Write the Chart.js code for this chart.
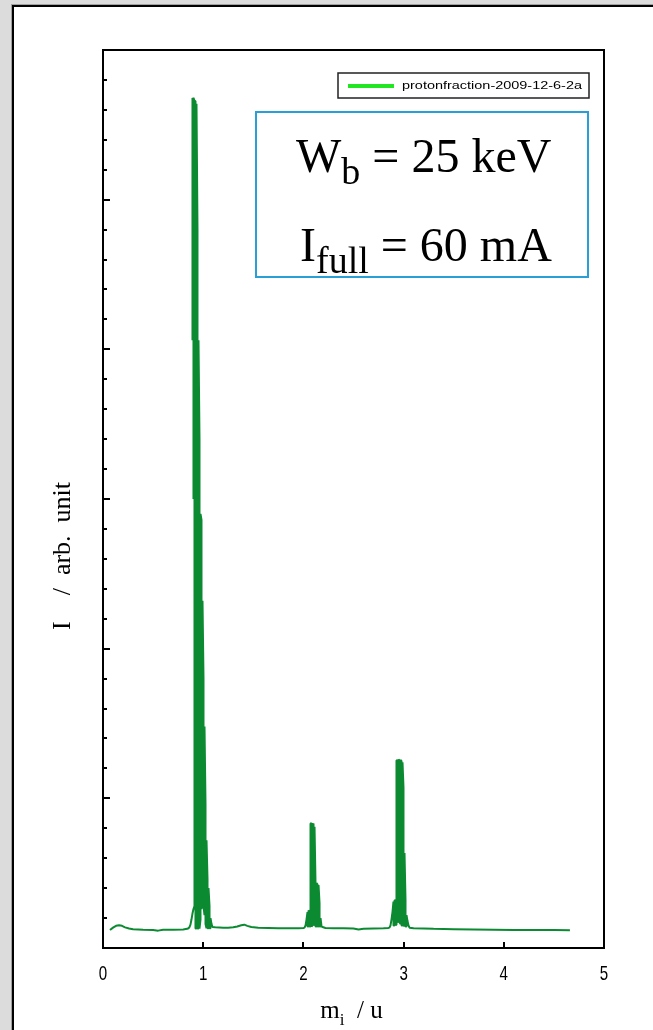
<!DOCTYPE html>
<html>
<head>
<meta charset="utf-8">
<title>protonfraction-2009-12-6-2a</title>
<script src="https://cdn.jsdelivr.net/npm/chart.js@4"></script>
<style>
  html, body { margin: 0; padding: 0; background: #dcdcdc; overflow: hidden; }
  #page {
    position: absolute; left: 12px; top: 5px; width: 700px; height: 1100px;
    background: #fff; border-left: 2px solid #000; border-top: 2px solid #000;
    box-shadow: -1px -1px 0 #a0a0a0;
  }
  #wrap { position: absolute; left: 0; top: 0; width: 653px; height: 1030px; }
</style>
</head>
<body>
<div id="page"></div>
<div id="wrap"><canvas id="chart"></canvas></div>
<script>
// Mass spectrum of the extracted beam (m_i in u, intensity in arb. units)
const seriesLabel = 'protonfraction-2009-12-6-2a';

const xTickValues = [0, 1, 2, 3, 4, 5];
const yTickValues = [1, 2, 3, 4, 5, 6, 7, 8, 9, 10, 11, 12, 13, 14, 15, 16, 17, 18, 19, 20,
  21, 22, 23, 24, 25, 26, 27, 28, 29];
const yMajorTicks = [5, 10, 15, 20, 25];

// [m_i, I] pairs, piece by piece
const baselineLeft = [
  [0.07, 0.60], [0.10, 0.68], [0.13, 0.74], [0.16, 0.76], [0.19, 0.74], [0.22, 0.69],
  [0.26, 0.65], [0.30, 0.63], [0.40, 0.61], [0.50, 0.60], [0.55, 0.58], [0.60, 0.61],
  [0.70, 0.61], [0.80, 0.62], [0.84, 0.64]
];

// H+ peak: the signal flickers between top and bottom, so the trace is a dense band
const peakH1 = [
  [0.853, 0.66], [0.863, 0.70], [0.873, 0.78], [0.883, 0.95], [0.893, 1.15], [0.903, 1.30],
  [0.913, 1.40], [0.913, 28.3],
  [0.903, 28.4], [0.903, 15.0], [0.903, 28.3],
  [0.893, 28.4], [0.893, 20.3], [0.893, 28.3],
  [0.923, 28.3], [0.923, 0.65],
  [0.933, 0.65], [0.933, 28.2],
  [0.943, 24.0], [0.943, 0.65],
  [0.953, 0.65], [0.953, 20.3],
  [0.963, 17.0], [0.963, 0.65],
  [0.973, 0.95], [0.973, 14.5],
  [0.983, 14.3], [0.983, 1.30],
  [0.993, 1.55], [0.993, 11.6],
  [1.003, 9.0], [1.003, 1.40],
  [1.013, 1.10], [1.013, 7.4],
  [1.023, 4.8], [1.023, 0.80],
  [1.033, 0.66], [1.033, 3.6],
  [1.043, 2.3], [1.043, 0.66],
  [1.053, 0.66], [1.053, 2.0],
  [1.063, 1.4], [1.063, 0.66],
  [1.073, 0.66], [1.073, 1.0],
  [1.083, 0.80], [1.093, 0.70]
];

const baselineMid1 = [
  [1.12, 0.69], [1.20, 0.68], [1.25, 0.68], [1.30, 0.69], [1.34, 0.72],
  [1.38, 0.76], [1.41, 0.78], [1.44, 0.74], [1.48, 0.70], [1.55, 0.68], [1.65, 0.67],
  [1.75, 0.66], [1.85, 0.66], [1.95, 0.66]
];

// H2+ peak
const peakH2 = [
  [2.001, 0.67], [2.011, 0.68], [2.021, 0.75], [2.031, 0.95],
  [2.041, 1.20], [2.041, 0.72],
  [2.051, 0.72], [2.051, 1.25],
  [2.061, 1.22], [2.061, 0.72],
  [2.071, 0.72], [2.071, 4.15],
  [2.081, 4.18], [2.081, 0.72],
  [2.091, 0.75], [2.091, 4.10],
  [2.101, 4.16], [2.101, 0.78],
  [2.111, 0.76], [2.111, 4.05],
  [2.121, 2.15], [2.121, 0.72],
  [2.131, 0.72], [2.131, 2.17],
  [2.141, 2.12], [2.141, 0.72],
  [2.151, 0.72], [2.151, 2.10],
  [2.161, 1.50], [2.161, 0.72],
  [2.171, 0.72], [2.171, 1.00],
  [2.181, 0.72], [2.191, 0.70]
];

const baselineMid2 = [
  [2.22, 0.67], [2.30, 0.66], [2.40, 0.66], [2.50, 0.65], [2.55, 0.62], [2.60, 0.64],
  [2.70, 0.65], [2.80, 0.66], [2.845, 0.67]
];

// H3+ peak
const peakH3 = [
  [2.859, 0.68], [2.869, 0.75], [2.879, 0.95], [2.889, 1.20],
  [2.899, 1.55], [2.899, 0.75],
  [2.909, 0.75], [2.909, 1.58],
  [2.919, 1.60], [2.919, 0.76],
  [2.929, 0.78], [2.929, 6.26],
  [2.939, 6.28], [2.939, 0.86],
  [2.949, 0.88], [2.949, 6.30],
  [2.959, 6.27], [2.959, 0.86],
  [2.969, 0.80], [2.969, 6.28],
  [2.979, 6.25], [2.979, 0.76],
  [2.989, 0.74], [2.989, 6.20],
  [2.999, 5.35], [2.999, 0.74],
  [3.009, 0.74], [3.009, 3.17],
  [3.019, 1.60], [3.019, 0.72],
  [3.029, 0.72], [3.029, 1.10],
  [3.039, 0.90], [3.049, 0.75], [3.059, 0.68]
];

const baselineRight = [
  [3.10, 0.66], [3.20, 0.65], [3.30, 0.64], [3.50, 0.63], [3.70, 0.62], [3.90, 0.61],
  [4.10, 0.60], [4.30, 0.60], [4.50, 0.60], [4.66, 0.59]
];

const trace = [].concat(baselineLeft, peakH1, baselineMid1, peakH2, baselineMid2, peakH3, baselineRight)
  .map(p => ({ x: p[0], y: p[1] }));

const lineColor = '#0b8a32';
const legendColor = '#22e622';
const serif = "'Liberation Serif', 'Times New Roman', serif";
const sans = "'Liberation Sans', Arial, sans-serif";

// writes a run of text pieces, each with its own size and baseline shift
function drawRich(ctx, parts, x, y) {
  let cx = x;
  parts.forEach(p => {
    ctx.font = p.size + 'px ' + serif;
    ctx.fillText(p.text, cx, y + (p.dy || 0));
    cx += ctx.measureText(p.text).width;
  });
  return cx - x;
}
function richWidth(ctx, parts) {
  let w = 0;
  parts.forEach(p => {
    ctx.font = p.size + 'px ' + serif;
    w += ctx.measureText(p.text).width;
  });
  return w;
}

const decorations = {
  id: 'decorations',
  afterDraw(chart) {
    const { ctx, chartArea: a } = chart;
    const xs = chart.scales.x;
    const ys = chart.scales.y;
    ctx.save();

    // inward tick marks
    ctx.strokeStyle = '#000';
    ctx.lineWidth = 2;
    yTickValues.forEach(v => {
      const py = Math.round(ys.getPixelForValue(v));
      const len = yMajorTicks.includes(v) ? 7 : 4;
      ctx.beginPath();
      ctx.moveTo(a.left, py);
      ctx.lineTo(a.left + len, py);
      ctx.stroke();
    });
    xTickValues.forEach(v => {
      const px = Math.round(xs.getPixelForValue(v));
      ctx.beginPath();
      ctx.moveTo(px, a.bottom);
      ctx.lineTo(px, a.bottom - 6);
      ctx.stroke();
    });

    // frame
    ctx.strokeRect(a.left, a.top, a.right - a.left, a.bottom - a.top);

    // x tick labels in a condensed face
    ctx.fillStyle = '#000';
    ctx.font = '21px ' + sans;
    ctx.textAlign = 'center';
    ctx.textBaseline = 'alphabetic';
    xs.ticks.forEach(t => {
      const px = xs.getPixelForValue(t.value);
      ctx.save();
      ctx.translate(px, 980);
      ctx.scale(0.72, 1);
      ctx.fillText(String(t.value), 0, 0);
      ctx.restore();
    });
    ctx.textAlign = 'left';

    // legend
    ctx.lineWidth = 1.5;
    ctx.strokeStyle = '#222';
    ctx.strokeRect(338, 73, 251, 25);
    ctx.strokeStyle = legendColor;
    ctx.lineWidth = 4;
    ctx.beginPath();
    ctx.moveTo(348, 86);
    ctx.lineTo(394, 86);
    ctx.stroke();
    ctx.font = '11px ' + sans;
    ctx.textBaseline = 'middle';
    const label = chart.data.datasets[0].label;
    const lw = ctx.measureText(label).width;
    ctx.save();
    ctx.translate(402, 86);
    ctx.scale(180 / lw, 1);
    ctx.fillText(label, 0, 0);
    ctx.restore();

    // parameter box
    ctx.strokeStyle = '#2a9fd6';
    ctx.lineWidth = 2;
    ctx.strokeRect(256, 112, 332, 165);
    ctx.textBaseline = 'alphabetic';
    drawRich(ctx, [
      { text: 'W', size: 48 },
      { text: 'b', size: 38, dy: 12 },
      { text: ' = 25 keV', size: 48 }
    ], 296, 172);
    drawRich(ctx, [
      { text: 'I', size: 48 },
      { text: 'full', size: 38, dy: 12 },
      { text: ' = 60 mA', size: 48 }
    ], 300, 261);

    // x axis title
    const xTitle = [
      { text: 'm', size: 25 },
      { text: 'i', size: 17, dy: 7 },
      { text: '  / u', size: 25 }
    ];
    const xc = (a.left + a.right) / 2;
    drawRich(ctx, xTitle, xc - richWidth(ctx, xTitle) / 2 - 2, 1018);

    // y axis title, rotated
    ctx.translate(70, 630);
    ctx.rotate(-Math.PI / 2);
    drawRich(ctx, [
      { text: 'I', size: 26 },
      { text: '    /  arb.  unit', size: 26 }
    ], 0, 0);

    ctx.restore();
  }
};

new Chart(document.getElementById('chart'), {
  type: 'scatter',
  data: {
    datasets: [{
      label: seriesLabel,
      data: trace,
      showLine: true,
      borderColor: lineColor,
      backgroundColor: lineColor,
      borderWidth: 2,
      borderJoinStyle: 'bevel',
      pointRadius: 0,
      pointHoverRadius: 0,
      tension: 0
    }]
  },
  options: {
    responsive: true,
    maintainAspectRatio: false,
    animation: false,
    events: [],
    layout: { padding: { left: 103, top: 50, right: 49, bottom: 0 } },
    scales: {
      x: {
        type: 'linear',
        min: 0,
        max: 5,
        grid: { display: false, drawTicks: false },
        border: { display: false },
        ticks: { stepSize: 1, display: false },
        afterFit(scale) { scale.height = 82; }
      },
      y: {
        type: 'linear',
        min: 0,
        max: 30,
        display: false
      }
    },
    plugins: {
      legend: { display: false },
      tooltip: { enabled: false }
    }
  },
  plugins: [decorations]
});
</script>
</body>
</html>
